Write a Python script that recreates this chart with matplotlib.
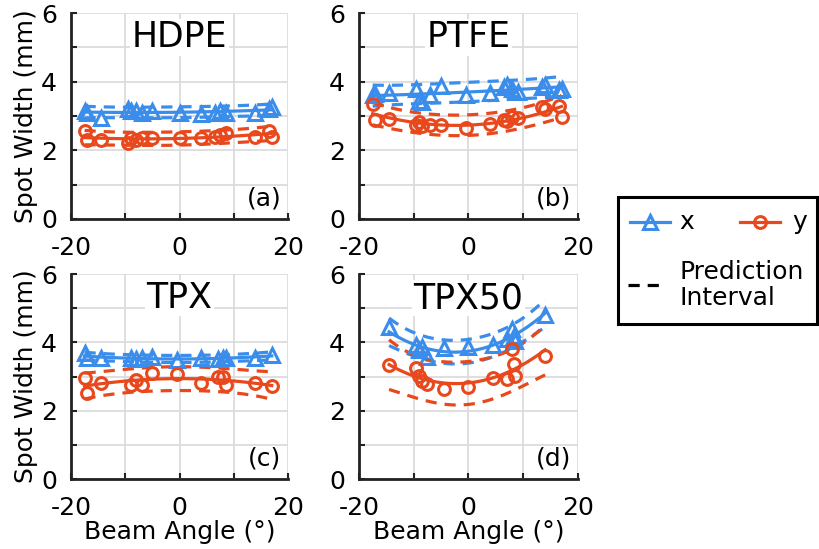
import numpy as np
import matplotlib
matplotlib.use("Agg")
import matplotlib.pyplot as plt
from matplotlib.lines import Line2D
from matplotlib.patches import Rectangle

# beam angle (deg) and measured spot widths (mm) per sample
materials = ["HDPE", "PTFE", "TPX", "TPX50"]
letters = ["(a)", "(b)", "(c)", "(d)"]

hdpe_angle = [-17.5, -17, -14.5, -9.5, -9, -8, -7, -5, 0, 4, 6.5, 7.5, 8.5, 14, 16.5, 17]
hdpe_x = [3.15, 3.1, 2.95, 3.2, 3.15, 3.15, 3.1, 3.15, 3.1, 3.05, 3.1, 3.15, 3.1, 3.1, 3.2, 3.25]
hdpe_y = [2.55, 2.3, 2.3, 2.2, 2.35, 2.3, 2.35, 2.35, 2.35, 2.35, 2.4, 2.45, 2.5, 2.4, 2.55, 2.4]

ptfe_angle = [-17.5, -17, -14.5, -9.5, -9, -8.5, -7, -5, -0.5, 4, 6.5, 7, 8, 9, 13.5, 14, 16.5, 17]
ptfe_x = [3.6, 3.65, 3.66, 3.78, 3.45, 3.4, 3.62, 3.86, 3.6, 3.66, 3.85, 3.9, 3.8, 3.7, 3.85, 3.9, 3.75, 3.8]
ptfe_y = [3.35, 2.88, 2.9, 2.75, 2.82, 2.7, 2.75, 2.73, 2.65, 2.78, 2.88, 2.85, 2.98, 2.95, 3.25, 3.2, 3.3, 2.98]

tpx_angle = [-17.5, -17, -14.5, -9, -8, -7, -5, -0.5, 4, 7, 8, 8.5, 14, 17]
tpx_x = [3.68, 3.53, 3.53, 3.53, 3.5, 3.55, 3.58, 3.48, 3.53, 3.5, 3.55, 3.55, 3.55, 3.62]
tpx_y = [2.96, 2.52, 2.8, 2.76, 2.9, 2.75, 3.1, 3.06, 2.8, 3.0, 2.98, 2.76, 2.8, 2.73]

tpx50_angle = [-14.5, -9.5, -9, -8.5, -7.5, -4.5, 0, 4.5, 7, 8, 8.3, 8.5, 14]
tpx50_x = [4.45, 3.92, 3.77, 3.85, 3.57, 3.82, 3.87, 3.92, 4.1, 4.4, 4.2, 4.05, 4.8]
tpx50_y = [3.33, 3.26, 3.02, 2.87, 2.77, 2.63, 2.68, 2.97, 2.92, 3.8, 3.36, 3.02, 3.6]

angles = [hdpe_angle, ptfe_angle, tpx_angle, tpx50_angle]
widths_x = [hdpe_x, ptfe_x, tpx_x, tpx50_x]
widths_y = [hdpe_y, ptfe_y, tpx_y, tpx50_y]

BLUE = "#3A8DEA"
RED = "#E8481C"
DASH = (0, (3.5, 2.5))
T95 = {8: 2.306, 9: 2.262, 10: 2.228, 11: 2.201, 12: 2.179, 13: 2.160, 14: 2.145, 15: 2.131}

plt.rcParams["font.family"] = "DejaVu Sans"
plt.rcParams["axes.unicode_minus"] = False


def quad_fit(ang, w):
    # quadratic fit with 95% prediction interval
    ang = np.asarray(ang, float)
    w = np.asarray(w, float)
    X = np.vstack([ang ** 2, ang, np.ones_like(ang)]).T
    coef, *_ = np.linalg.lstsq(X, w, rcond=None)
    dof = len(w) - 3
    s = np.sqrt(np.sum((w - X @ coef) ** 2) / dof)
    xtx = np.linalg.inv(X.T @ X)
    xs = np.linspace(ang.min(), ang.max(), 100)
    Xs = np.vstack([xs ** 2, xs, np.ones_like(xs)]).T
    ys = Xs @ coef
    lev = np.einsum("ij,jk,ik->i", Xs, xtx, Xs)
    half = T95.get(dof, 2.12) * s * np.sqrt(1 + lev)
    return xs, ys, ys - half, ys + half


fig = plt.figure(figsize=(8.19, 5.49), dpi=100)
positions = [
    [0.0867, 0.6011, 0.2650, 0.3752],
    [0.4383, 0.6011, 0.2674, 0.3752],
    [0.0867, 0.1275, 0.2650, 0.3734],
    [0.4383, 0.1275, 0.2674, 0.3734],
]

for i, pos in enumerate(positions):
    ax = fig.add_axes(pos)
    for w, col, mk in [(widths_x[i], BLUE, "^"), (widths_y[i], RED, "o")]:
        xs, ys, lo, hi = quad_fit(angles[i], w)
        ax.plot(xs, ys, color=col, lw=2.3, zorder=3)
        ax.plot(xs, lo, color=col, lw=2.3, ls=DASH, zorder=3)
        ax.plot(xs, hi, color=col, lw=2.3, ls=DASH, zorder=3)
        ax.plot(angles[i], w, ls="none", marker=mk, ms=10 if mk == "^" else 8.5,
                mfc="none", mec=col, mew=2.2, zorder=4)
    ax.set_xlim(-20, 20)
    ax.set_ylim(0, 6)
    ax.set_xticks([-20, 0, 20])
    ax.set_xticks([-10, 10], minor=True)
    ax.set_yticks([0, 2, 4, 6])
    ax.set_yticks([1, 3, 5], minor=True)
    ax.grid(which="both", color="#dcdcdc", lw=1.3)
    ax.set_axisbelow(True)
    for side in ["top", "right"]:
        ax.spines[side].set_visible(False)
    for side in ["left", "bottom"]:
        ax.spines[side].set_linewidth(2)
        ax.spines[side].set_color("#222222")
    ax.tick_params(which="both", direction="in", length=4, width=1.5,
                   labelsize=18, colors="#222222", labelcolor="black")
    ax.tick_params(axis="x", pad=12)
    ax.tick_params(axis="y", pad=10)
    ax.text(0.5, 0.80, materials[i], transform=ax.transAxes, ha="center",
            va="bottom", fontsize=25,
            bbox=dict(facecolor="white", edgecolor="none", pad=1))
    ax.text(0.97, 0.04, letters[i], transform=ax.transAxes, ha="right",
            va="bottom", fontsize=18)
    if i % 2 == 0:
        ax.set_ylabel("Spot Width (mm)", fontsize=18, labelpad=2)
    if i >= 2:
        ax.set_xlabel("Beam Angle (°)", fontsize=18, labelpad=0)

# legend drawn by hand so the two-line label can run under the "y" entry
W, H = 819.0, 549.0
fig.add_artist(Rectangle((618 / W, 1 - 324 / H), 199 / W, 127 / H,
                         transform=fig.transFigure, facecolor="white",
                         edgecolor="black", lw=2.2))
ly = 1 - 222 / H
fig.add_artist(Line2D([630 / W, 670 / W], [ly, ly], color=BLUE, lw=2.3,
                      transform=fig.transFigure))
fig.add_artist(Line2D([650 / W], [ly], color=BLUE, marker="^", ms=10, mfc="none",
                      mew=2.2, transform=fig.transFigure))
fig.text(679 / W, ly, "x", fontsize=18, va="center", ha="left")
fig.add_artist(Line2D([740 / W, 780 / W], [ly, ly], color=RED, lw=2.3,
                      transform=fig.transFigure))
fig.add_artist(Line2D([760 / W], [ly], color=RED, marker="o", ms=8.5, mfc="none",
                      mew=2.2, transform=fig.transFigure))
fig.text(792 / W, ly, "y", fontsize=18, va="center", ha="left")
py = 1 - 285 / H
fig.add_artist(Line2D([628 / W, 664 / W], [py, py], color="black", lw=2.3,
                      ls=DASH, transform=fig.transFigure))
fig.text(679 / W, py, "Prediction\nInterval", fontsize=18, va="center",
         ha="left", linespacing=1.1)

fig.savefig("out.png", dpi=100)
